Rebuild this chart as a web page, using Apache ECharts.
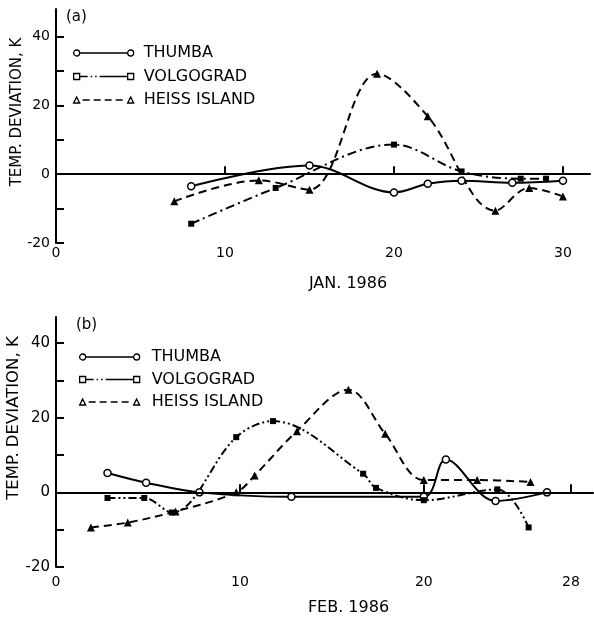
<!DOCTYPE html>
<html><head><meta charset="utf-8">
<script src="https://cdn.jsdelivr.net/npm/echarts@6/dist/echarts.min.js"></script>
<style>html,body{margin:0;padding:0;background:#fff}#c{width:594px;height:618px}</style>
</head><body><div id="c"></div>
<script>
// ---- data ----
const seriesNames = ['THUMBA', 'VOLGOGRAD', 'HEISS ISLAND'];
const janThumba = [[8,-3.5],[15,2.5],[20,-5.3],[22,-2.8],[24,-1.9],[27,-2.5],[30,-1.9]];
const janVolgograd = [[8,-14.4],[13,-4],[20,8.6],[24,0.8],[27.5,-1.3],[29,-1.3]];
const janHeiss = [[7,-7.9],[12,-1.8],[15,-4.5],[19,29.2],[22,16.8],[26,-10.6],[28,-4],[30,-6.5]];
const febThumba = [[2.8,5.2],[4.9,2.6],[7.8,0],[12.8,-1.2],[20,-1.2],[21.2,8.8],[23.9,-2.3],[26.7,0]];
const febVolgograd = [[2.8,-1.5],[4.8,-1.5],[6.3,-5.4],[9.8,14.8],[11.8,19.1],[16.7,5],[17.4,1.2],[20,-2.1],[24,0.8],[25.7,-9.4]];
const febHeiss = [[1.9,-9.4],[3.9,-8.1],[6.5,-5.1],[9.8,0],[10.8,4.5],[13.1,16.4],[15.9,27.5],[17.9,15.7],[20,3.3],[22.9,3.3],[25.8,2.8]];
const yTickValues = [-20,-10,0,10,20,30,40];
const yLabelValues = [-20,0,20,40];
const janXLabels = [0,10,20,30];
const febXLabels = [0,10,20,28];
const zeroLevel = 0;

// ---- styles ----
const FONT = 'DejaVu Sans';
const icons = {
  'THUMBA': 'path://M0,3A3,3 0 1,1 6,3A3,3 0 1,1 0,3Z M6,3L54,3 M54,3A3,3 0 1,1 60,3A3,3 0 1,1 54,3Z',
  'VOLGOGRAD': 'path://M0,0L6,0L6,6L0,6Z M6,3L14,3 M17,3L18.5,3 M21.5,3L23,3 M26,3L54,3 M54,0L60,0L60,6L54,6Z',
  'HEISS ISLAND': 'path://M0,6L3,0L6,6Z M9,3L16,3 M20,3L27,3 M31,3L38,3 M42,3L49,3 M54,6L57,0L60,6Z'
};
const seriesStyle = {
  'THUMBA': { symbol: 'circle', symbolSize: 7, lineStyle: { type: 'solid' },
              itemStyle: { color: '#fff', borderColor: '#000', borderWidth: 1.5 } },
  'VOLGOGRAD': { symbol: 'rect', symbolSize: 6, itemStyle: { color: '#000' } },
  'HEISS ISLAND': { symbol: 'triangle', symbolSize: 8, lineStyle: { type: [8, 5] }, itemStyle: { color: '#000' } }
};
const volgDash = [[9, 4, 2, 4], [8, 3, 2, 3, 2, 3]];

function mkSeries(name, data, idx, extraDash) {
  const st = seriesStyle[name];
  const s = {
    type: 'line', name: name, data: data, xAxisIndex: idx, yAxisIndex: idx,
    smooth: 0.35, symbol: st.symbol, symbolSize: st.symbolSize,
    lineStyle: Object.assign({ color: '#000', width: 2 }, st.lineStyle || {}),
    itemStyle: st.itemStyle, z: 3
  };
  if (extraDash) s.lineStyle.type = extraDash;
  return s;
}
function zeroLine() {
  return { silent: true, symbol: 'none', label: { show: false },
           lineStyle: { color: '#000', width: 2, type: 'solid' },
           data: [{ yAxis: zeroLevel }] };
}
function legend(top, left, gap, w) {
  return {
    orient: 'vertical', top: top, left: left, padding: 0, itemGap: gap,
    itemWidth: w, itemHeight: 6,
    data: seriesNames.map(n => ({ name: n, icon: icons[n] })),
    itemStyle: { color: '#fff', borderColor: '#000', borderWidth: 1.3 },
    textStyle: { color: '#000', fontSize: 16, fontFamily: FONT, lineHeight: 16, padding: [0, 0, 0, 5] },
    selectedMode: false
  };
}
function xAxis(idx, max, labels, ticks, name, pad, labelMargin) {
  return {
    gridIndex: idx, type: 'value', min: 0, max: max,
    name: name, nameLocation: 'middle', nameGap: 33, nameMoveOverlap: false,
    nameTextStyle: { color: '#000', fontSize: 16, fontFamily: FONT, padding: [0, 0, 0, pad] },
    axisLine: { lineStyle: { color: '#000', width: 2 } },
    axisTick: { inside: true, length: 8, lineStyle: { color: '#000', width: 2 }, customValues: ticks },
    axisLabel: { color: '#000', fontSize: 14, fontFamily: FONT, margin: labelMargin, customValues: labels },
    splitLine: { show: false }
  };
}
function yAxis(idx, max, gap, fs, pad, lfs) {
  return {
    gridIndex: idx, type: 'value', min: -20, max: max,
    name: 'TEMP. DEVIATION, K', nameLocation: 'middle', nameGap: gap, nameMoveOverlap: false,
    nameTextStyle: { color: '#000', fontSize: fs, fontFamily: FONT, padding: [0, 0, 0, pad] },
    axisLine: { show: true, lineStyle: { color: '#000', width: 2 } },
    axisTick: { show: true, inside: true, length: 8, lineStyle: { color: '#000', width: 2 }, customValues: yTickValues },
    axisLabel: { color: '#000', fontSize: lfs, fontFamily: FONT, margin: 6, customValues: yLabelValues },
    splitLine: { show: false }
  };
}

const seriesList = [
  mkSeries('THUMBA', janThumba, 0),
  mkSeries('VOLGOGRAD', janVolgograd, 0, volgDash[0]),
  mkSeries('HEISS ISLAND', janHeiss, 0),
  mkSeries('THUMBA', febThumba, 1),
  mkSeries('VOLGOGRAD', febVolgograd, 1, volgDash[1]),
  mkSeries('HEISS ISLAND', febHeiss, 1)
];
seriesList[0].markLine = zeroLine();
seriesList[3].markLine = zeroLine();

const chart = echarts.init(document.getElementById('c'), null, { renderer: 'canvas' });
chart.setOption({
  animation: false,
  backgroundColor: '#fff',
  textStyle: { fontFamily: FONT },
  title: [
    { text: '(a)', left: 66, top: 10, padding: 0, textStyle: { color: '#000', fontSize: 15, fontWeight: 'normal', fontFamily: FONT } },
    { text: '(b)', left: 76, top: 318, padding: 0, textStyle: { color: '#000', fontSize: 15, fontWeight: 'normal', fontFamily: FONT } }
  ],
  legend: [legend(45, 73, 7.5, 60), legend(349, 79, 6.5, 64)],
  grid: [
    { left: 56, right: 4, top: 9, bottom: 375, containLabel: false, outerBoundsMode: 'none' },
    { left: 56, right: 1, top: 317, bottom: 51, containLabel: false, outerBoundsMode: 'none' }
  ],
  xAxis: [
    xAxis(0, 31.6, janXLabels, [10, 20, 30], 'JAN. 1986', 50, 3),
    xAxis(1, 29.2, febXLabels, [10, 20, 28], 'FEB. 1986', 48, 8)
  ],
  yAxis: [
    yAxis(0, 48, 31, 15, 28, 14),
    yAxis(1, 47, 34, 16.5, 48, 15)
  ],
  series: seriesList
});
</script></body></html>
